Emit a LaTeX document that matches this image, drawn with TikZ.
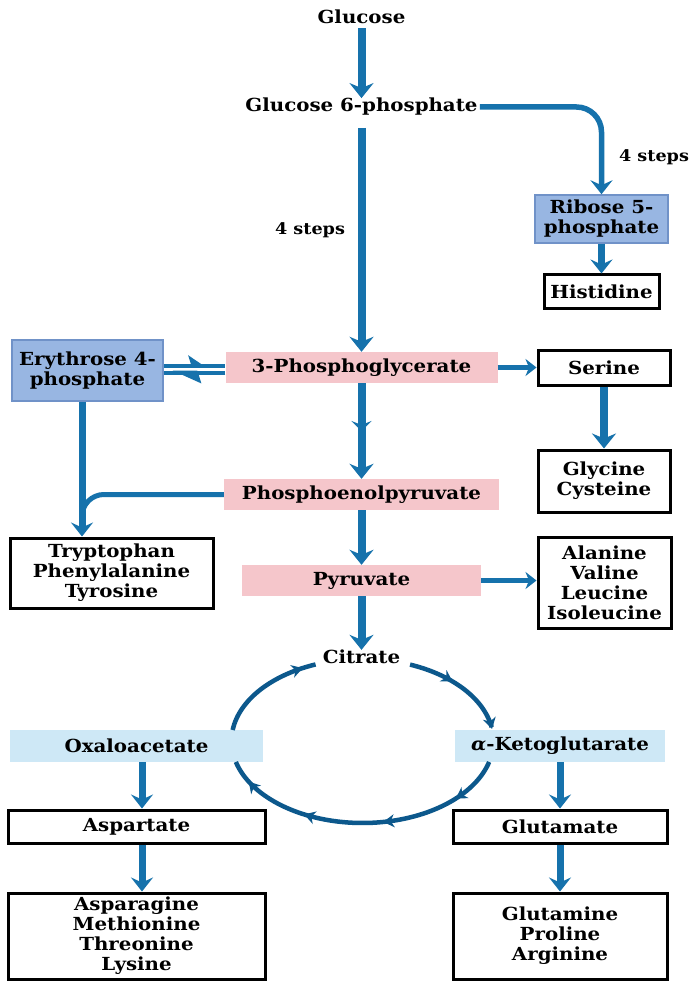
\documentclass[tikz,border=0pt]{standalone}
\usepackage{fontspec}
\setmainfont{DejaVu Serif}[FakeStretch=1.1]
\usetikzlibrary{arrows.meta,decorations.markings,calc}
\definecolor{flow}{RGB}{22,114,172}
\definecolor{cycc}{RGB}{12,88,140}
\definecolor{pinkbox}{RGB}{245,198,203}
\definecolor{bluebox}{RGB}{152,182,226}
\definecolor{blueedge}{RGB}{112,146,200}
\definecolor{paleblue}{RGB}{206,232,246}
\begin{document}
\begin{tikzpicture}[x=1pt,y=-1pt,
  every node/.style={font=\bfseries\fontsize{18}{20}\selectfont, align=center, inner sep=0pt},
  stepslabel/.style={font=\bfseries\fontsize{16}{18}\selectfont},
  sz/.style 2 args={minimum width=#1pt, minimum height=#2pt},
  aabox/.style={draw=black, line width=3pt, fill=white},
  pinkb/.style={fill=pinkbox},
  blueb/.style={fill=bluebox, draw=blueedge, line width=1.5pt},
  paleb/.style={fill=paleblue},
  bigtip/.tip={Stealth[length=15pt,width=24pt,inset=5pt]},
  midtip/.tip={Stealth[length=14pt,width=22pt,inset=5pt]},
  smalltip/.tip={Stealth[length=11pt,width=17pt,inset=3.5pt]},
  cyctip/.tip={Stealth[length=11pt,width=13pt,inset=3.5pt]},
  flowbig/.style={draw=flow, line width=8pt, -{bigtip}},
  flowmid/.style={draw=flow, line width=7pt, -{midtip}},
  flowthin/.style={draw=flow, line width=5pt, -{smalltip}},
  eqline/.style={draw=flow, line width=4pt},
  cycline/.style={draw=cycc, line width=4.5pt},
]
\useasboundingbox (0,0) rectangle (696,981);
\fill[white] (0,0) rectangle (696,981);

% nodes
\node (glc) at (361.5,17) {Glucose};
\node (g6p) at (361.5,107) {Glucose 6-phosphate};
\node[stepslabel] (st1) at (310,230) {4 steps};
\node[stepslabel] (st2) at (654,157) {4 steps};
\node[blueb, sz={133}{48}] (r5p) at (601.5,219) {Ribose 5-\\phosphate};
\node[aabox, sz={115}{33}] (his) at (601.5,291.5) {Histidine};
\node[blueb, sz={151}{61}] (e4p) at (87.5,370.5) {Erythrose 4-\\phosphate};
\node[pinkb, sz={272}{31}] (pg3) at (361.5,367.5) {3-Phosphoglycerate};
\node[aabox, sz={132}{35}] (ser) at (604,367.5) {Serine};
\node[aabox, sz={132}{62}] (gly) at (604,481) {Glycine\\Cysteine};
\node[pinkb, sz={275}{31}] (pep) at (361.5,494.5) {Phosphoenolpyruvate};
\node[pinkb, sz={239}{31}] (pyr) at (361.5,580.5) {Pyruvate};
\node[aabox, sz={203}{70}] (try) at (111.5,573) {Tryptophan\\Phenylalanine\\Tyrosine};
\node[aabox, sz={133}{91}] (ala) at (604.5,582.5) {Alanine\\Valine\\Leucine\\Isoleucine};
\node (cit) at (361.5,657) {Citrate};
\node[paleb, sz={253}{32}] (oaa) at (136.5,746) {Oxaloacetate};
\node[paleb, sz={210}{32}] (akg) at (560,746) {{\itshape α}-Ketoglutarate};
\node[aabox, sz={257}{33}] (asp) at (136.5,826.5) {Aspartate};
\node[aabox, sz={257}{86}] (asn) at (136.5,936) {Asparagine\\Methionine\\Threonine\\Lysine};
\node[aabox, sz={214}{33}] (glu) at (560,826.5) {Glutamate};
\node[aabox, sz={214}{86}] (gln) at (560,936) {Glutamine\\Proline\\Arginine};

% main trunk
\draw[flowbig, shorten <=4pt] (glc) -- (g6p);
\draw[flowbig, shorten <=12pt] (g6p) -- (pg3);
\draw[flowbig, postaction={decorate}, decoration={markings, mark=at position 0.5 with {\arrow{Stealth[length=10pt,width=20pt,inset=4pt]}}}] (pg3) -- (pep);
\draw[flowbig] (pep) -- (pyr);
\draw[flowbig] (pyr) -- (cit);

% ribose branch
\draw[draw=flow, line width=5.5pt, -{midtip}, rounded corners=25pt, shorten <=2pt] (g6p.east) -- (r5p.north |- g6p.east) -- (r5p.north);
\draw[flowmid] (r5p) -- (his);

% erythrose equilibrium
\coordinate (uA) at ([yshift=2pt]pg3.west);
\coordinate (lA) at ([yshift=-5pt]pg3.west);
\draw[eqline, postaction={decorate}, decoration={markings, mark=at position 0.68 with {\arrow{Stealth[left,length=15pt,width=20pt,inset=3pt]}}}] (e4p.east |- uA) -- (uA);
\draw[eqline, postaction={decorate}, decoration={markings, mark=at position 0.86 with {\arrow{Stealth[left,length=24pt,width=21pt,inset=3pt]}}}] (lA) -- (e4p.east |- lA);

% aromatic branch
\coordinate (e4pb) at ([xshift=-5.5pt]e4p.south);
\draw[flowmid] (e4pb) -- (e4pb |- try.north);
\draw[draw=flow, line width=5pt, rounded corners=22pt] (pep.west) -- (e4pb |- pep.west) -- ([yshift=-32pt]e4pb |- pep.west);

% serine and pyruvate branches
\draw[flowthin] (pg3.east) -- (pg3.east -| ser.west);
\draw[flowbig] (ser) -- (gly);
\draw[flowthin] (pyr.east) -- (pyr.east -| ala.west);

% citric acid cycle
\coordinate (cyc) at (362.5,741);
\draw[cycline, -{cyctip}, postaction={decorate}, decoration={markings, mark=at position 0.42 with {\arrow{cyctip}}}]
  plot[domain=-68.7:-8.5, samples=50, variable=\t] ({362.5+131*cos(\t)}, {741+82*sin(\t)});
\draw[cycline, postaction={decorate}, decoration={markings,
   mark=at position 0.17 with {\arrow{cyctip}},
   mark=at position 0.43 with {\arrow{cyctip}},
   mark=at position 0.70 with {\arrow{cyctip}},
   mark=at position 0.92 with {\arrow{cyctip}}}]
  plot[domain=14.8:165.2, samples=80, variable=\t] ({362.5+131*cos(\t)}, {741+82*sin(\t)});
\draw[cycline, postaction={decorate}, decoration={markings, mark=at position 0.88 with {\arrow{cyctip}}}]
  plot[domain=187.7:249, samples=50, variable=\t] ({362.5+131*cos(\t)}, {741+82*sin(\t)});

% lower branches
\coordinate (oaax) at ([xshift=5.5pt]oaa.south);
\draw[flowmid] (oaax) -- (oaax |- asp.north);
\draw[flowmid] (oaax |- asp.south) -- (oaax |- asn.north);
\draw[flowmid] (akg) -- (glu);
\draw[flowmid] (glu) -- (gln);
\end{tikzpicture}
\end{document}
